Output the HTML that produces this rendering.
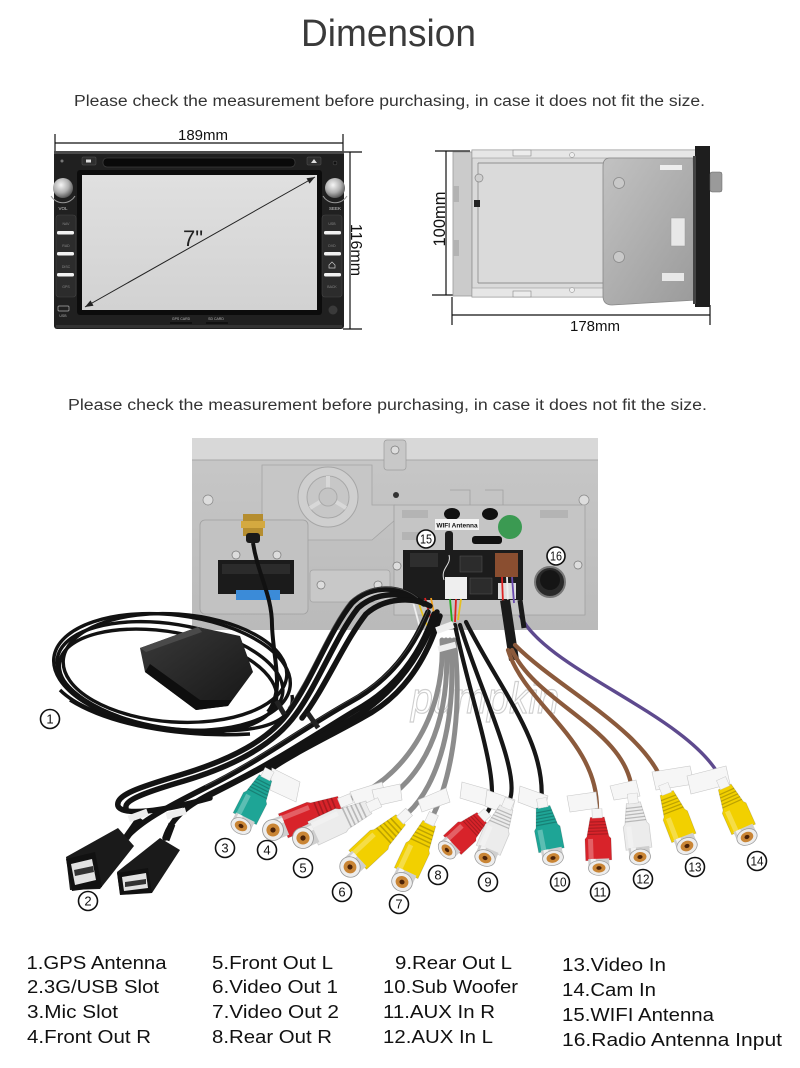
<!DOCTYPE html>
<html><head><meta charset="utf-8"><style>
html,body{margin:0;padding:0;background:#fff;width:800px;height:1068px;overflow:hidden}
svg{display:block}
text{font-family:"Liberation Sans",Arial,sans-serif}
</style></head><body>
<svg width="800" height="1068" viewBox="0 0 800 1068" xmlns="http://www.w3.org/2000/svg">
<defs>
 <linearGradient id="scr" x1="0" y1="0" x2="0" y2="1"><stop offset="0" stop-color="#e0e0e0"/><stop offset="1" stop-color="#d2d2d2"/></linearGradient>
 <radialGradient id="knob" cx="0.4" cy="0.35" r="0.7"><stop offset="0" stop-color="#f6f6f6"/><stop offset="0.55" stop-color="#b0b0b0"/><stop offset="1" stop-color="#4a4a4a"/></radialGradient>
 <linearGradient id="brk" x1="0" y1="0" x2="1" y2="1"><stop offset="0" stop-color="#c2c2c2"/><stop offset="1" stop-color="#9a9a9a"/></linearGradient>
 <linearGradient id="panel" x1="0" y1="0" x2="0" y2="1"><stop offset="0" stop-color="#c8c8c8"/><stop offset="1" stop-color="#bababa"/></linearGradient>
 <linearGradient id="puck" x1="0" y1="0" x2="1" y2="1"><stop offset="0" stop-color="#3a3a3a"/><stop offset="1" stop-color="#161616"/></linearGradient>
 <g id="rca">
  <path d="M-13,-10 L13,-10 L13,-38 L11,-41 L7,-66 L-7,-66 L-11,-41 L-13,-38 Z" stroke="#000" stroke-opacity="0.15" stroke-width="0.8"/>
  <path d="M-10.5,-44 h21 M-10,-48 h20 M-9.3,-52 h18.6 M-8.6,-56 h17.2 M-8,-60 h16" stroke="#000" stroke-opacity="0.22" stroke-width="1.5"/>
  <path d="M-10,-12 L-5,-12 L-5,-38 L-10,-38 Z" fill="#fff" fill-opacity="0.28"/>
  <rect x="-5" y="-77" width="10" height="12" fill="#f5f5f5" stroke="#c8c8c8" stroke-width="0.5"/>
  <rect x="-10.5" y="-12" width="21" height="12" fill="#cfcfcf"/>
  <rect x="-8" y="-12" width="5" height="12" fill="#f2f2f2"/>
  <ellipse rx="10.5" ry="9.5" fill="#ededed" stroke="#999" stroke-width="0.8"/>
  <ellipse rx="6.5" ry="6" fill="#c98535"/>
  <ellipse rx="2.6" ry="2.4" fill="#4a2208"/>
 </g>
</defs>

<!-- Title -->
<text x="301" y="46" font-size="38" fill="#3a3a3a" textLength="175" lengthAdjust="spacingAndGlyphs">Dimension</text>
<text x="74" y="106" font-size="15.5" fill="#333" textLength="631" lengthAdjust="spacingAndGlyphs">Please check the measurement before purchasing, in case it does not fit the size.</text>

<!-- Front head unit -->
<g>
 <line x1="55" y1="143" x2="343" y2="143" stroke="#111" stroke-width="1.2"/>
 <line x1="55" y1="134" x2="55" y2="152" stroke="#111" stroke-width="1.2"/>
 <line x1="343" y1="134" x2="343" y2="152" stroke="#111" stroke-width="1.2"/>
 <text x="203" y="140" font-size="15" text-anchor="middle" fill="#111">189mm</text>
 <line x1="350" y1="152" x2="350" y2="329" stroke="#111" stroke-width="1.2"/>
 <line x1="343" y1="152" x2="362" y2="152" stroke="#111" stroke-width="1.2"/>
 <line x1="343" y1="329" x2="362" y2="329" stroke="#111" stroke-width="1.2"/>
 <text transform="translate(351,250) rotate(90)" font-size="16" text-anchor="middle" fill="#111">116mm</text>

 <rect x="54" y="151" width="290" height="178" rx="3" fill="#202020"/>
 <rect x="54" y="151" width="290" height="3" fill="#4a4a4a"/>
 <rect x="56" y="325" width="286" height="3" fill="#333"/>
 <rect x="103" y="158" width="192" height="9" rx="4" fill="#0a0a0a" stroke="#3a3a3a" stroke-width="0.8"/>
 <rect x="82" y="157" width="14" height="8" rx="1" fill="#2e2e2e" stroke="#555" stroke-width="0.5"/>
 <rect x="86" y="159.5" width="5" height="3" fill="#ddd"/>
 <rect x="307" y="157" width="14" height="8" rx="1" fill="#2e2e2e" stroke="#555" stroke-width="0.5"/>
 <path d="M311,163 L314,159 L317,163 Z" fill="#ddd"/>
 <circle cx="62" cy="161" r="1.5" fill="#777"/>
 <circle cx="335" cy="163" r="2" fill="#111" stroke="#555" stroke-width="0.5"/>
 <rect x="77" y="170" width="245" height="145" rx="3" fill="#0c0c0c"/>
 <rect x="82" y="175" width="235" height="135" fill="url(#scr)"/>
 <line x1="85" y1="307" x2="315" y2="177" stroke="#222" stroke-width="1"/>
 <polygon points="315,177 309.5,183.6 306.5,178.3" fill="#222"/>
 <polygon points="85,307 93.5,305.7 90.5,300.4" fill="#222"/>
 <text x="193" y="246" font-size="22" text-anchor="middle" fill="#222">7"</text>
 <circle cx="63" cy="188" r="10" fill="url(#knob)"/>
 <circle cx="335" cy="188" r="10" fill="url(#knob)"/>
 <path d="M51,196 A14,14 0 0 0 75,196" fill="none" stroke="#9a9a9a" stroke-width="1"/>
 <path d="M323,196 A14,14 0 0 0 347,196" fill="none" stroke="#9a9a9a" stroke-width="1"/>
 <text x="63" y="210" font-size="4.5" text-anchor="middle" fill="#ccc">VOL</text>
 <text x="335" y="210" font-size="4.5" text-anchor="middle" fill="#ccc">SEEK</text>
 <rect x="56" y="215" width="20" height="82" rx="3" fill="#2c2c2c" stroke="#444" stroke-width="0.6"/>
 <rect x="322" y="215" width="20" height="82" rx="3" fill="#2c2c2c" stroke="#444" stroke-width="0.6"/>
 <g fill="#f2f2f2">
  <rect x="57" y="231" width="17" height="3.5" rx="1.5"/>
  <rect x="57" y="252" width="17" height="3.5" rx="1.5"/>
  <rect x="57" y="273" width="17" height="3.5" rx="1.5"/>
  <rect x="324" y="231" width="17" height="3.5" rx="1.5"/>
  <rect x="324" y="252" width="17" height="3.5" rx="1.5"/>
  <rect x="324" y="273" width="17" height="3.5" rx="1.5"/>
 </g>
 <g font-size="3.5" fill="#888" text-anchor="middle">
  <text x="66" y="225">NAV</text><text x="66" y="247">RAD</text><text x="66" y="268">DISC</text><text x="66" y="288">GPS</text>
  <text x="332" y="225">USB</text><text x="332" y="247">DVD</text><text x="332" y="288">BACK</text>
 </g>
 <path d="M329,265 L332,262 L335,265 L335,268 L329,268 Z" fill="none" stroke="#ccc" stroke-width="0.7"/>
 <rect x="58" y="306" width="11" height="5" rx="1" fill="none" stroke="#aaa" stroke-width="0.7"/>
 <text x="63" y="317" font-size="3.5" text-anchor="middle" fill="#aaa">USB</text>
 <text x="181" y="320" font-size="3.5" text-anchor="middle" fill="#bbb">GPS CARD</text>
 <text x="216" y="320" font-size="3.5" text-anchor="middle" fill="#bbb">SD CARD</text>
 <rect x="170" y="322" width="22" height="2" fill="#111"/>
 <rect x="206" y="322" width="22" height="2" fill="#111"/>
 <circle cx="333" cy="310" r="4.5" fill="#3a3a3a"/>
</g>

<!-- Side view -->
<g>
 <line x1="446" y1="151" x2="446" y2="295" stroke="#111" stroke-width="1.2"/>
 <line x1="435" y1="151" x2="470" y2="151" stroke="#111" stroke-width="1.2"/>
 <line x1="432" y1="295" x2="455" y2="295" stroke="#111" stroke-width="1.2"/>
 <text transform="translate(445,219) rotate(-90)" font-size="16.5" text-anchor="middle" fill="#111">100mm</text>
 <line x1="452" y1="315" x2="710" y2="315" stroke="#111" stroke-width="1.2"/>
 <line x1="452" y1="297" x2="452" y2="325" stroke="#111" stroke-width="1.2"/>
 <line x1="710" y1="305" x2="710" y2="325" stroke="#111" stroke-width="1.2"/>
 <text x="595" y="331" font-size="15" text-anchor="middle" fill="#111">178mm</text>

 <rect x="453" y="152" width="19" height="144" fill="#cbcbcb" stroke="#9a9a9a" stroke-width="0.8"/>
 <rect x="453" y="186" width="6" height="16" fill="#b3b3b3"/>
 <rect x="453" y="240" width="6" height="16" fill="#b3b3b3"/>
 <rect x="472" y="150" width="225" height="147" fill="#dadada" stroke="#8f8f8f" stroke-width="0.8"/>
 <rect x="472" y="150" width="225" height="8" fill="#e6e6e6" stroke="#9a9a9a" stroke-width="0.6"/>
 <rect x="472" y="288" width="225" height="9" fill="#e6e6e6" stroke="#9a9a9a" stroke-width="0.6"/>
 <line x1="478" y1="163" x2="603" y2="163" stroke="#777" stroke-width="0.8"/>
 <line x1="478" y1="283" x2="603" y2="283" stroke="#777" stroke-width="0.8"/>
 <line x1="478" y1="163" x2="478" y2="283" stroke="#888" stroke-width="0.8"/>
 <circle cx="479" cy="178" r="4" fill="#cfcfcf" stroke="#888" stroke-width="0.7"/>
 <rect x="474" y="200" width="6" height="7" fill="#222"/>
 <rect x="513" y="150" width="18" height="6" fill="#ececec" stroke="#888" stroke-width="0.6"/>
 <rect x="513" y="291" width="18" height="6" fill="#ececec" stroke="#888" stroke-width="0.6"/>
 <circle cx="572" cy="155" r="2.5" fill="#eee" stroke="#888" stroke-width="0.5"/>
 <circle cx="572" cy="290" r="2.5" fill="#eee" stroke="#888" stroke-width="0.5"/>
 <path d="M610,158 L693,158 L697,300 L612,305 Q603,305 603,296 L603,166 Q603,158 610,158 Z" fill="url(#brk)" stroke="#888" stroke-width="0.8"/>
 <circle cx="619" cy="183" r="5.5" fill="#c9c9c9" stroke="#8a8a8a" stroke-width="0.8"/>
 <circle cx="619" cy="257" r="5.5" fill="#c9c9c9" stroke="#8a8a8a" stroke-width="0.8"/>
 <rect x="660" y="165" width="22" height="5" fill="#eee"/>
 <rect x="671" y="218" width="14" height="28" fill="#e8e8e8" stroke="#999" stroke-width="0.5"/>
 <rect x="662" y="273" width="22" height="8" fill="#e8e8e8"/>
 <rect x="695" y="146" width="15" height="161" fill="#1e1e1e"/>
 <rect x="693" y="156" width="3" height="148" fill="#444"/>
 <rect x="710" y="172" width="12" height="20" rx="2" fill="#9a9a9a" stroke="#666" stroke-width="0.5"/>
</g>

<text x="68" y="410" font-size="15.5" fill="#333" textLength="639" lengthAdjust="spacingAndGlyphs">Please check the measurement before purchasing, in case it does not fit the size.</text>

<!-- Rear panel -->
<g>
 <rect x="192" y="438" width="406" height="192" fill="url(#panel)"/>
 <rect x="192" y="438" width="406" height="22" fill="#d8d8d8"/>
 <line x1="192" y1="460" x2="598" y2="460" stroke="#a8a8a8" stroke-width="1"/>
 <rect x="384" y="440" width="22" height="30" rx="3" fill="#c8c8c8" stroke="#9c9c9c" stroke-width="0.7"/>
 <circle cx="395" cy="450" r="4" fill="#ddd" stroke="#777" stroke-width="0.7"/>
 <path d="M262,465 L372,465 L372,505 L395,505 L395,520 L372,540 L290,540 L290,520 L262,520 Z" fill="#c6c6c6" stroke="#a4a4a4" stroke-width="0.8"/>
 <circle cx="328" cy="497" r="30" fill="#cfcfcf" stroke="#a6a6a6" stroke-width="1"/>
 <circle cx="328" cy="497" r="21" fill="#c7c7c7" stroke="#a8a8a8" stroke-width="1"/>
 <path d="M328,497 L328,476 M328,497 L310,508 M328,497 L346,508" stroke="#d8d8d8" stroke-width="4"/>
 <circle cx="328" cy="497" r="9" fill="#c4c4c4" stroke="#aaa"/>
 <circle cx="396" cy="495" r="3" fill="#333"/>
 <rect x="200" y="520" width="108" height="94" rx="5" fill="#c2c2c2" stroke="#a0a0a0" stroke-width="0.8"/>
 <circle cx="208" cy="500" r="5" fill="#ddd" stroke="#888" stroke-width="0.7"/>
 <circle cx="584" cy="500" r="5" fill="#ddd" stroke="#888" stroke-width="0.7"/>
 <circle cx="236" cy="555" r="4" fill="#ddd" stroke="#777" stroke-width="0.7"/>
 <circle cx="277" cy="555" r="4" fill="#ddd" stroke="#777" stroke-width="0.7"/>
 <rect x="218" y="560" width="76" height="34" fill="#1b1b1b"/>
 <rect x="222" y="564" width="68" height="10" fill="#2b2b2b"/>
 <rect x="236" y="590" width="44" height="10" fill="#3b8bd8"/>
 <rect x="310" y="570" width="80" height="32" rx="3" fill="#c8c8c8" stroke="#a2a2a2" stroke-width="0.7"/>
 <circle cx="321" cy="585" r="4" fill="#ddd" stroke="#777" stroke-width="0.7"/>
 <circle cx="378" cy="585" r="4" fill="#ddd" stroke="#777" stroke-width="0.7"/>
 <path d="M394,505 L585,505 L585,615 L394,615 Z" fill="#c5c5c5" stroke="#a0a0a0" stroke-width="0.8"/>
 <path d="M450,490 L470,490 L470,505 M485,490 L503,490 L503,505" fill="none" stroke="#a0a0a0" stroke-width="0.8"/>
 <rect x="402" y="510" width="26" height="8" fill="#b4b4b4"/>
 <rect x="402" y="532" width="26" height="8" fill="#b4b4b4"/>
 <rect x="540" y="510" width="28" height="8" fill="#b4b4b4"/>
 <ellipse cx="452" cy="514" rx="8" ry="6" fill="#111"/>
 <ellipse cx="490" cy="514" rx="8" ry="6" fill="#111"/>
 <rect x="472" y="536" width="30" height="8" rx="3" fill="#111"/>
 <circle cx="510" cy="527" r="12" fill="#3b9a52"/>
 <rect x="435" y="519" width="44" height="11" fill="#f4f4f4"/>
 <text x="457" y="527.5" font-size="6.5" font-weight="bold" text-anchor="middle" fill="#111">WIFI Antenna</text>
 <rect x="403" y="550" width="120" height="50" fill="#1c1c1c"/>
 <rect x="410" y="553" width="28" height="14" fill="#2e2e2e"/>
 <rect x="460" y="556" width="22" height="16" fill="#2c2c2c" stroke="#555" stroke-width="0.5"/>
 <rect x="470" y="578" width="22" height="16" fill="#2c2c2c" stroke="#555" stroke-width="0.5"/>
 <rect x="445" y="577" width="22" height="22" fill="#eee"/>
 <rect x="495" y="553" width="23" height="24" fill="#8a4e30"/>
 <rect x="498" y="583" width="18" height="16" fill="#ddd"/>
 <rect x="445" y="531" width="8" height="24" rx="3" fill="#1c1c1c"/>
 <path d="M449,555 C452,565 440,568 444,580" fill="none" stroke="#ddd" stroke-width="1"/>
 <circle cx="550" cy="582" r="15" fill="#2a2a2a" stroke="#777" stroke-width="2"/>
 <circle cx="550" cy="580" r="10" fill="#151515"/>
 <circle cx="578" cy="565" r="4" fill="#ddd" stroke="#777" stroke-width="0.7"/>
 <circle cx="397" cy="566" r="4" fill="#ddd" stroke="#777" stroke-width="0.7"/>
 <rect x="243" y="514" width="20" height="22" fill="#b58d2f"/>
 <rect x="241" y="521" width="24" height="7" fill="#d4a940"/>
 <rect x="246" y="533" width="14" height="10" rx="3" fill="#1a1a1a"/>
 <!-- wires -->
 <g fill="none" stroke-width="1.8">
  <path d="M412,598 L420,628" stroke="#eee"/>
  <path d="M418,598 C420,610 425,620 430,632" stroke="#e6c020"/>
  <path d="M425,598 L433,626" stroke="#d22"/>
  <path d="M431,598 L436,624" stroke="#f0a020"/>
  <path d="M450,599 L452,622" stroke="#2a2"/>
  <path d="M456,599 L455,622" stroke="#d22"/>
  <path d="M461,599 L458,620" stroke="#e6c020"/>
  <path d="M502,577 L503,603" stroke="#d22"/>
  <path d="M507,577 L508,603" stroke="#eee"/>
  <path d="M512,577 L514,603" stroke="#6a4ab0"/>
 </g>
</g>

<!-- GPS loop back -->
<g fill="none" stroke="#121212" stroke-width="3.4">
 <ellipse cx="172" cy="672" rx="119" ry="57" transform="rotate(7 172 672)"/>
 <ellipse cx="170" cy="676" rx="114" ry="52" transform="rotate(9 170 676)"/>
 <ellipse cx="175" cy="668" rx="112" ry="54" transform="rotate(4 175 668)"/>
 <ellipse cx="168" cy="681" rx="110" ry="49" transform="rotate(10 168 681)"/>
</g>
<!-- puck -->
<path d="M140,648 L198,627 L240,636 L253,672 L228,706 L196,710 L145,672 Z" fill="url(#puck)"/>
<path d="M145,672 L196,710 L228,706 L232,700 L200,700 L150,664 Z" fill="#0e0e0e"/>
<path d="M140,648 L198,627 L202,632 L146,652 Z" fill="#4a4a4a"/>
<g fill="none" stroke="#111" stroke-width="3.4">
 <path d="M60,690 C90,720 170,735 240,730 C280,727 295,712 292,695"/>
 <path d="M70,700 C110,725 180,738 250,734"/>
</g>
<path d="M253,543 C258,575 272,595 272,625 C273,660 285,690 268,712" fill="none" stroke="#111" stroke-width="4"/>

<!-- Black bundles -->
<g fill="none" stroke="#131313" stroke-width="5.5" stroke-linecap="round">
 <path d="M418,600 C400,585 370,585 352,603 C330,630 312,680 290,710 C270,740 230,760 180,775 C140,787 115,795 118,806 C122,816 160,812 210,798"/>
 <path d="M424,604 C404,590 376,592 358,608 C336,636 318,684 296,714 C274,745 234,766 184,781 C146,792 124,800 126,808"/>
 <path d="M430,606 C412,596 384,598 366,614 C344,642 324,690 302,718"/>
 <path d="M428,612 C412,650 390,680 350,702 C300,730 262,760 205,788 C165,808 140,822 126,838"/>
 <path d="M434,614 C420,655 396,688 356,710 C310,738 270,765 214,792 C190,804 172,816 165,838"/>
 <path d="M440,616 C425,665 400,698 362,718 C330,736 290,755 269,770.5"/>
 <path d="M437,612 C420,660 392,696 350,720 C300,748 240,780 200,800"/>
</g>
<g fill="none" stroke="#4a4a4a" stroke-width="0.7">
 <path d="M418,598 C400,583 370,583 350,601 C328,628 310,678 288,708"/>
 <path d="M428,610 C412,648 390,678 350,700 C300,728 262,758 205,786"/>
</g>
<rect x="278" y="700" width="5" height="16" fill="#222" transform="rotate(-30 280 708)"/>
<rect x="310" y="712" width="5" height="18" fill="#222" transform="rotate(-35 312 720)"/>

<!-- watermark -->
<text x="485" y="713" font-size="44" font-style="italic" fill="none" stroke="#cfcfcf" stroke-width="1.2" text-anchor="middle" textLength="148" lengthAdjust="spacingAndGlyphs">pumpkin</text>

<!-- Gray cables -->
<g fill="none" stroke="#8c8c8c" stroke-width="5" stroke-linecap="round">
 <path d="M442,640 C446,720 400,780 350.5,798.7"/>
 <path d="M446,640 C452,725 420,783 378.8,802.7"/>
 <path d="M450,640 C458,720 437.6,785.3 408.4,812.6"/>
 <path d="M454,640 C462,700 454.6,769.2 433.5,814.5"/>
</g>
<!-- Black thin cables -->
<g fill="none" stroke="#161616" stroke-width="4.2" stroke-linecap="round">
 <path d="M455,625 C470,700 505,790 487,812.7"/>
 <path d="M460,625 C480,690 521,772 509.7,799.9"/>
 <path d="M466,622 C500,690 545,740 541.5,799.1"/>
</g>
<!-- brown/purple -->
<path d="M505,600 L514,660" stroke="#1a1a1a" stroke-width="10" fill="none"/>
<g fill="none" stroke="#8b5a3c" stroke-width="4.2" stroke-linecap="round">
 <path d="M508,650 C525,705 598,740 597,809.6"/>
 <path d="M512,650 C537,705 630,730 632.3,794.4"/>
 <path d="M515,645 C560,690 645,730 663.6,784.9"/>
</g>
<path d="M520,615 C545,670 690,715 721.3,779.3" fill="none" stroke="#5e4a8e" stroke-width="3.4"/>
<path d="M520,600 L524,628" stroke="#1a1a1a" stroke-width="5" fill="none"/>

<!-- cable ties -->
<rect x="436" y="624" width="18" height="7" fill="#eee" transform="rotate(-20 445 628)"/>
<rect x="438" y="644" width="18" height="6" fill="#eee" transform="rotate(-15 447 647)"/>

<!-- tags -->
<g fill="#f6f6f6" stroke="#c8c8c8" stroke-width="0.6">
 <polygon points="272,768 300,782 296,802 270,790"/>
 <polygon points="350,792 382,782 386,798 356,806"/>
 <polygon points="372,790 400,784 402,800 376,806"/>
 <polygon points="418,800 446,788 450,802 422,812"/>
 <polygon points="462,782 490,790 486,806 460,798"/>
 <polygon points="487,790 515,800 511,816 485,806"/>
 <polygon points="520,786 548,796 544,812 518,802"/>
 <polygon points="567,796 596,792 598,808 570,812"/>
 <polygon points="610,786 636,780 640,796 614,800"/>
 <polygon points="652,772 690,766 694,784 656,790"/>
 <polygon points="687,776 726,766 730,784 691,794"/>
</g>

<!-- RCA connectors -->
<use href="#rca" transform="translate(241,826) rotate(27) scale(1,0.82)" fill="#1ea596"/>
<use href="#rca" transform="translate(273,830) rotate(68) scale(1,1.1)" fill="#d8232a"/>
<use href="#rca" transform="translate(303,838) rotate(65) scale(1,1.1)" fill="#ececec"/>
<use href="#rca" transform="translate(350,867) rotate(47) scale(1,1.05)" fill="#f2d000"/>
<use href="#rca" transform="translate(402,882) rotate(25) scale(1,0.98)" fill="#f2d000"/>
<use href="#rca" transform="translate(447,850) rotate(47) scale(1,0.72)" fill="#d8232a"/>
<use href="#rca" transform="translate(485,858) rotate(23) scale(1,0.83)" fill="#ececec"/>
<use href="#rca" transform="translate(553,858) rotate(-11) scale(1,0.79)" fill="#1ea596"/>
<use href="#rca" transform="translate(599,868) rotate(-2) scale(1,0.77)" fill="#d8232a"/>
<use href="#rca" transform="translate(640,857) rotate(-7) scale(1,0.83)" fill="#ececec"/>
<use href="#rca" transform="translate(687,846) rotate(-21) scale(1,0.86)" fill="#f2d000"/>
<use href="#rca" transform="translate(747,837) rotate(-24) scale(1,0.83)" fill="#f2d000"/>

<!-- USB connectors -->
<path d="M126,838 L140,818" stroke="#131313" stroke-width="7" fill="none"/>
<path d="M66,857 L118,828 L134,846 L100,889 L70,890 Z" fill="#1a1a1a"/>
<path d="M66,859 L95,852 L102,887 L72,891 Z" fill="#111"/>
<path d="M71,864 L92,859 L96,880 L75,885 Z" fill="#e2e2e2"/>
<path d="M74,870 L93,866 L94,872 L75,876 Z" fill="#333"/>
<path d="M117,872 L160,838 L180,850 L152,893 L120,894 Z" fill="#1a1a1a"/>
<path d="M117,873 L148,868 L152,893 L120,895 Z" fill="#111"/>
<path d="M122,877 L146,873 L148,888 L124,891 Z" fill="#e2e2e2"/>
<path d="M125,882 L146,879 L146,884 L125,887 Z" fill="#333"/>
<path d="M166,840 L172,824" stroke="#131313" stroke-width="7" fill="none"/>
<rect x="128" y="812" width="20" height="7" fill="#eee" transform="rotate(-20 138 815)"/>
<rect x="166" y="810" width="20" height="7" fill="#eee" transform="rotate(-15 176 813)"/>

<!-- number circles -->
<g fill="#fff" stroke="#111" stroke-width="1.6">
 <circle cx="50" cy="719" r="9.5"/>
 <circle cx="88" cy="901" r="9.5"/>
 <circle cx="225" cy="848" r="9.5"/>
 <circle cx="267" cy="850" r="9.5"/>
 <circle cx="303" cy="868" r="9.5"/>
 <circle cx="342" cy="892" r="9.5"/>
 <circle cx="399" cy="904" r="9.5"/>
 <circle cx="438" cy="875" r="9.5"/>
 <circle cx="488" cy="882" r="9.5"/>
 <circle cx="560" cy="882" r="9.5"/>
 <circle cx="600" cy="892" r="9.5"/>
 <circle cx="643" cy="879" r="9.5"/>
 <circle cx="695" cy="867" r="9.5"/>
 <circle cx="757" cy="861" r="9.5"/>
 <circle cx="426" cy="539" r="9"/>
 <circle cx="556" cy="556" r="9"/>
</g>
<g font-size="13" text-anchor="middle" fill="#111">
 <text x="50" y="723.5">1</text>
 <text x="88" y="905.5">2</text>
 <text x="225" y="852.5">3</text>
 <text x="267" y="854.5">4</text>
 <text x="303" y="872.5">5</text>
 <text x="342" y="896.5">6</text>
 <text x="399" y="908.5">7</text>
 <text x="438" y="879.5">8</text>
 <text x="488" y="886.5">9</text>
 <text x="560" y="886.5" textLength="13" lengthAdjust="spacingAndGlyphs">10</text>
 <text x="600" y="896.5" textLength="13" lengthAdjust="spacingAndGlyphs">11</text>
 <text x="643" y="883.5" textLength="13" lengthAdjust="spacingAndGlyphs">12</text>
 <text x="695" y="871.5" textLength="13" lengthAdjust="spacingAndGlyphs">13</text>
 <text x="757" y="865.5" textLength="13" lengthAdjust="spacingAndGlyphs">14</text>
 <text x="426" y="543.5" textLength="12" lengthAdjust="spacingAndGlyphs">15</text>
 <text x="556" y="560.5" textLength="12" lengthAdjust="spacingAndGlyphs">16</text>
</g>

<!-- Legend -->
<g font-size="18.5" fill="#111">
 <text x="26.5" y="969" textLength="140" lengthAdjust="spacingAndGlyphs">1.GPS Antenna</text>
 <text x="27" y="993" textLength="132" lengthAdjust="spacingAndGlyphs">2.3G/USB Slot</text>
 <text x="27" y="1018" textLength="91" lengthAdjust="spacingAndGlyphs">3.Mic Slot</text>
 <text x="27" y="1043" textLength="124" lengthAdjust="spacingAndGlyphs">4.Front Out R</text>
 <text x="212" y="969" textLength="121" lengthAdjust="spacingAndGlyphs">5.Front Out L</text>
 <text x="212" y="993" textLength="126" lengthAdjust="spacingAndGlyphs">6.Video Out 1</text>
 <text x="212" y="1018" textLength="127" lengthAdjust="spacingAndGlyphs">7.Video Out 2</text>
 <text x="212" y="1043" textLength="120" lengthAdjust="spacingAndGlyphs">8.Rear Out R</text>
 <text x="395" y="969" textLength="117" lengthAdjust="spacingAndGlyphs">9.Rear Out L</text>
 <text x="383" y="993" textLength="135" lengthAdjust="spacingAndGlyphs">10.Sub Woofer</text>
 <text x="383" y="1018" textLength="112" lengthAdjust="spacingAndGlyphs">11.AUX In R</text>
 <text x="383" y="1043" textLength="110" lengthAdjust="spacingAndGlyphs">12.AUX In L</text>
 <text x="562" y="971" textLength="104" lengthAdjust="spacingAndGlyphs">13.Video In</text>
 <text x="562" y="996" textLength="94" lengthAdjust="spacingAndGlyphs">14.Cam In</text>
 <text x="562" y="1021" textLength="152" lengthAdjust="spacingAndGlyphs">15.WIFI Antenna</text>
 <text x="562" y="1046" textLength="220" lengthAdjust="spacingAndGlyphs">16.Radio Antenna Input</text>
</g>
</svg>
</body></html>
